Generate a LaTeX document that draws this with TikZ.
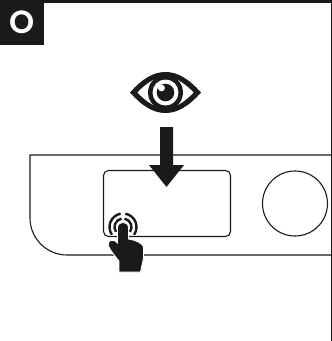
\documentclass[tikz,border=0pt]{standalone}
\usepackage{fontspec}
\setsansfont{Poppins}[UprightFont=* Medium,BoldFont=* SemiBold]
\definecolor{ink}{HTML}{1A1A18}
\tikzset{
  outline/.style={draw=ink,line width=1.1pt},
  wave/.style={draw=ink,line width=2.4pt,line cap=butt},
  badge/.style={fill=ink,draw=none,minimum width=44pt,minimum height=45pt,inner sep=0pt,anchor=north west},
}
\begin{document}
\begin{tikzpicture}[x=1pt,y=1pt]
\useasboundingbox (0,0) rectangle (332,-341);
\fill[white] (0,0) rectangle (332,-341);
% frame
\fill[ink] (0,0) rectangle (332,-3);
\draw[outline] (331.4,0) -- (331.4,-341);
\node[badge] (badge) at (0,0) {};
\node[text=white,font=\sffamily\bfseries\fontsize{32}{32}\selectfont,inner sep=0pt] (letter) at (22,-22) {O};
% device panel
\draw[outline] (331,-155) -- (30,-155) -- (30,-218) arc[start angle=180,end angle=270,radius=37pt] -- (331,-255);
% screen
\draw[outline,rounded corners=5pt] (103.5,-170.5) rectangle (230.5,-236.5);
% round button
\node[outline,circle,minimum size=65pt,inner sep=0pt] (knob) at (295,-203.5) {};
% arrow
\fill[ink] (160,-127) -- (173,-127) -- (173,-165) -- (184,-165) -- (166.5,-187) -- (149,-165) -- (160,-165) -- cycle;
% eye
\begin{scope}[shift={(165.5,-92.5)}]
  \fill[ink] (-35.5,0) .. controls (-23,-14) and (-12,-20.5) .. (0,-20.5)
     .. controls (12,-20.5) and (23,-14) .. (35.5,0)
     .. controls (23,14) and (12,20.5) .. (0,20.5)
     .. controls (-12,20.5) and (-23,14) .. (-35.5,0) -- cycle;
  \fill[white] (-28,0) .. controls (-19,-9.5) and (-10,-15.5) .. (0,-15.5)
     .. controls (10,-15.5) and (19,-9.5) .. (28,0)
     .. controls (19,9.5) and (10,15.5) .. (0,15.5)
     .. controls (-10,15.5) and (-19,9.5) .. (-28,0) -- cycle;
  \fill[ink] (0,0) circle[radius=17.5pt];
  \fill[white] (0,0) circle[radius=13pt];
  \fill[ink] (0,0) circle[radius=8.8pt];
  \fill[white] (-4,4.5) circle[radius=3.4pt];
\end{scope}
% touch waves
\draw[wave] (123,-227) ++(100:8.5pt) arc[start angle=100,end angle=215,radius=8.5pt];
\draw[wave] (123,-227) ++(80:8.5pt) arc[start angle=80,end angle=-35,radius=8.5pt];
\draw[wave] (123,-227) ++(100:13.5pt) arc[start angle=100,end angle=215,radius=13.5pt];
\draw[wave] (123,-227) ++(80:13.5pt) arc[start angle=80,end angle=-35,radius=13.5pt];
% hand
\fill[ink,draw=white,line width=0.8pt]
  (117.5,-228) .. controls (117.5,-220.5) and (128.5,-220.5) .. (128.5,-228)
  -- (128.5,-239) .. controls (135,-240) and (142.5,-243) .. (143.5,-247)
  -- (143.5,-258) -- (140.5,-272) -- (119,-272) -- (119,-261)
  .. controls (115,-256) and (110,-250) .. (108.5,-246)
  .. controls (107,-240) and (113,-238) .. (117.5,-243) -- cycle;
\end{tikzpicture}
\end{document}
